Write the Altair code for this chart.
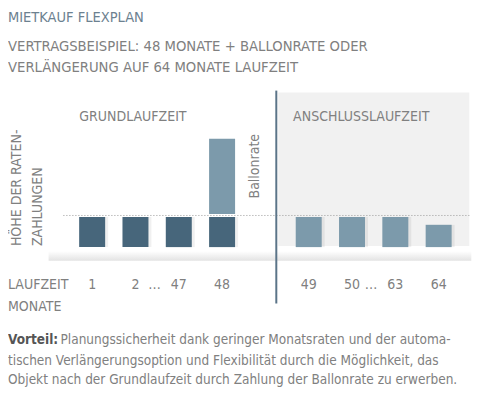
import altair as alt
import pandas as pd

# ---------------- data ----------------
months = ["1", "2", "47", "48", "49", "50", "63", "64"]
phases = ["Grundlaufzeit"] * 4 + ["Anschlusslaufzeit"] * 4
rates = [1.0, 1.0, 1.0, 1.0, 1.0, 1.0, 1.0, 0.74]
balloon = [0.0, 0.0, 0.0, 2.6, 0.0, 0.0, 0.0, 0.0]
slots = ["1", "2", "47", "48", " ", "49", "50", "63", "64"]
ellipsis_after = ["2", "50"]

title_text = "MIETKAUF FLEXPLAN"
subtitle_lines = ["VERTRAGSBEISPIEL: 48 MONATE + BALLONRATE ODER",
                  "VERLÄNGERUNG AUF 64 MONATE LAUFZEIT"]
phase_titles = ["GRUNDLAUFZEIT", "ANSCHLUSSLAUFZEIT"]
y_title_lines = ["HÖHE DER RATEN-", "ZAHLUNGEN"]
x_title_lines = ["LAUFZEIT", "MONATE"]
balloon_label = "Ballonrate"
footer_bold = "Vorteil:"
footer_lines = ["Planungssicherheit dank geringer Monatsraten und der automa-",
                "tischen Verlängerungsoption und Flexibilität durch die Möglichkeit, das",
                "Objekt nach der Grundlaufzeit durch Zahlung der Ballonrate zu erwerben."]

df = pd.DataFrame({"month": months, "phase": phases, "rate": rates, "balloon": balloon})

# ---------------- layout helpers ----------------
def X(rx):
    return round((rx - 4) * 0.99, 1)

def Y(ry):
    return round(13.6 + (ry - 17) * 0.972, 1)

FONT = "DejaVu Sans Condensed, DejaVu Sans, sans-serif"
DARK = "#47667b"
LIGHT = "#7c9aab"
GRAY_TXT = "#808080"

x_enc = alt.X("month:N", axis=None,
              scale=alt.Scale(domain=slots, range=[X(67.1), X(460.9)],
                              paddingInner=0.4, paddingOuter=0.2))
y_scale = alt.Scale(domain=[0, 4], range=[Y(249), Y(125)], nice=False)

one = alt.Data(values=[{}])


def label(text, x, y, size=14, color=GRAY_TXT, angle=0, weight="normal", align="left"):
    kw = dict(text=text, fontSize=size, color=color, font=FONT, align=align,
              baseline="alphabetic", fontWeight=weight)
    if angle:
        kw["angle"] = angle
    return alt.Chart(one).mark_text(**kw).encode(x=alt.value(x), y=alt.value(y))


layers = []

# grey panel for Anschlusslaufzeit
layers.append(alt.Chart(one).mark_rect(color="#f1f1f1").encode(
    x=alt.value(X(277)), x2=alt.value(X(470)), y=alt.value(Y(90)), y2=alt.value(Y(248))))

# floor shadow band
layers.append(alt.Chart(one).mark_rect(
    color=alt.Gradient(gradient="linear",
                       stops=[alt.GradientStop(color="#ffffff", offset=0),
                              alt.GradientStop(color="#ffffff", offset=0.3),
                              alt.GradientStop(color="#e3e3e3", offset=1)],
                       x1=0, x2=0, y1=0, y2=1)).encode(
    x=alt.value(X(45)), x2=alt.value(X(472)), y=alt.value(Y(249)), y2=alt.value(Y(263))))

# bar shadows
layers.append(alt.Chart(df).mark_bar(color="#000000", opacity=0.06, xOffset=3).encode(
    x=x_enc, y=alt.Y("rate:Q", scale=y_scale, axis=None)))

# regular rates
layers.append(alt.Chart(df).mark_bar().encode(
    x=x_enc,
    y=alt.Y("rate:Q", scale=y_scale, axis=None),
    color=alt.Color("phase:N", legend=None,
                    scale=alt.Scale(domain=["Grundlaufzeit", "Anschlusslaufzeit"],
                                    range=[DARK, LIGHT]))))

# balloon payment
layers.append(alt.Chart(df).transform_filter("datum.balloon > 0").transform_calculate(
    top="datum.rate + datum.balloon").mark_bar(color=LIGHT, yOffset=-3).encode(
    x=x_enc, y=alt.Y("rate:Q", scale=y_scale, axis=None), y2="top:Q"))

# dotted reference line at the regular rate level
layers.append(alt.Chart(one).mark_rule(color="#9a9a9a", strokeDash=[1, 2], strokeWidth=1,
                                        yOffset=-1.5).encode(
    x=alt.value(X(60)), x2=alt.value(X(470)), y=alt.datum(1, scale=y_scale)))

# divider
layers.append(alt.Chart(one).mark_rule(color="#5b7488", strokeWidth=2).encode(
    x=alt.value(X(275)), y=alt.value(Y(88)), y2=alt.value(Y(307))))

# month labels
layers.append(alt.Chart(df).mark_text(fontSize=14, color=GRAY_TXT, font=FONT,
                                      baseline="alphabetic").encode(
    x=x_enc, y=alt.value(Y(291.7)), text="month:N"))
layers.append(alt.Chart(pd.DataFrame({"month": ellipsis_after})).mark_text(
    text="…", fontSize=14, color=GRAY_TXT, font=FONT, baseline="alphabetic", dx=19).encode(
    x=x_enc, y=alt.value(Y(291.7))))

# texts
layers.append(label(title_text, X(4), Y(17), size=14.5, color="#6c8190"))
layers.append(label(subtitle_lines[0], X(4), Y(46.7), size=14.7))
layers.append(label(subtitle_lines[1], X(4), Y(68.3), size=14.7))
layers.append(label(phase_titles[0], X(76), Y(119)))
layers.append(label(phase_titles[1], X(292), Y(119)))
layers.append(label(balloon_label, X(257), Y(199), angle=270))
layers.append(label(y_title_lines[0], X(17), Y(248), angle=270))
layers.append(label(y_title_lines[1], X(38), Y(248), angle=270))
layers.append(label(x_title_lines[0], X(4), Y(291.7)))
layers.append(label(x_title_lines[1], X(4), Y(315)))
layers.append(label(footer_bold, X(4), Y(349), size=13.5, color="#555555", weight="bold"))
layers.append(label(footer_lines[0], X(57), Y(349), size=13.5))
layers.append(label(footer_lines[1], X(4), Y(370), size=13.5))
layers.append(label(footer_lines[2], X(4), Y(390), size=13.5))

chart = alt.layer(*layers).properties(
    width=484, height=380, padding=0,
    autosize=alt.AutoSizeParams(type="none"),
    background="white",
).configure_view(stroke=None)

chart.save("out.html", embed_options={"renderer": "svg", "actions": False})
